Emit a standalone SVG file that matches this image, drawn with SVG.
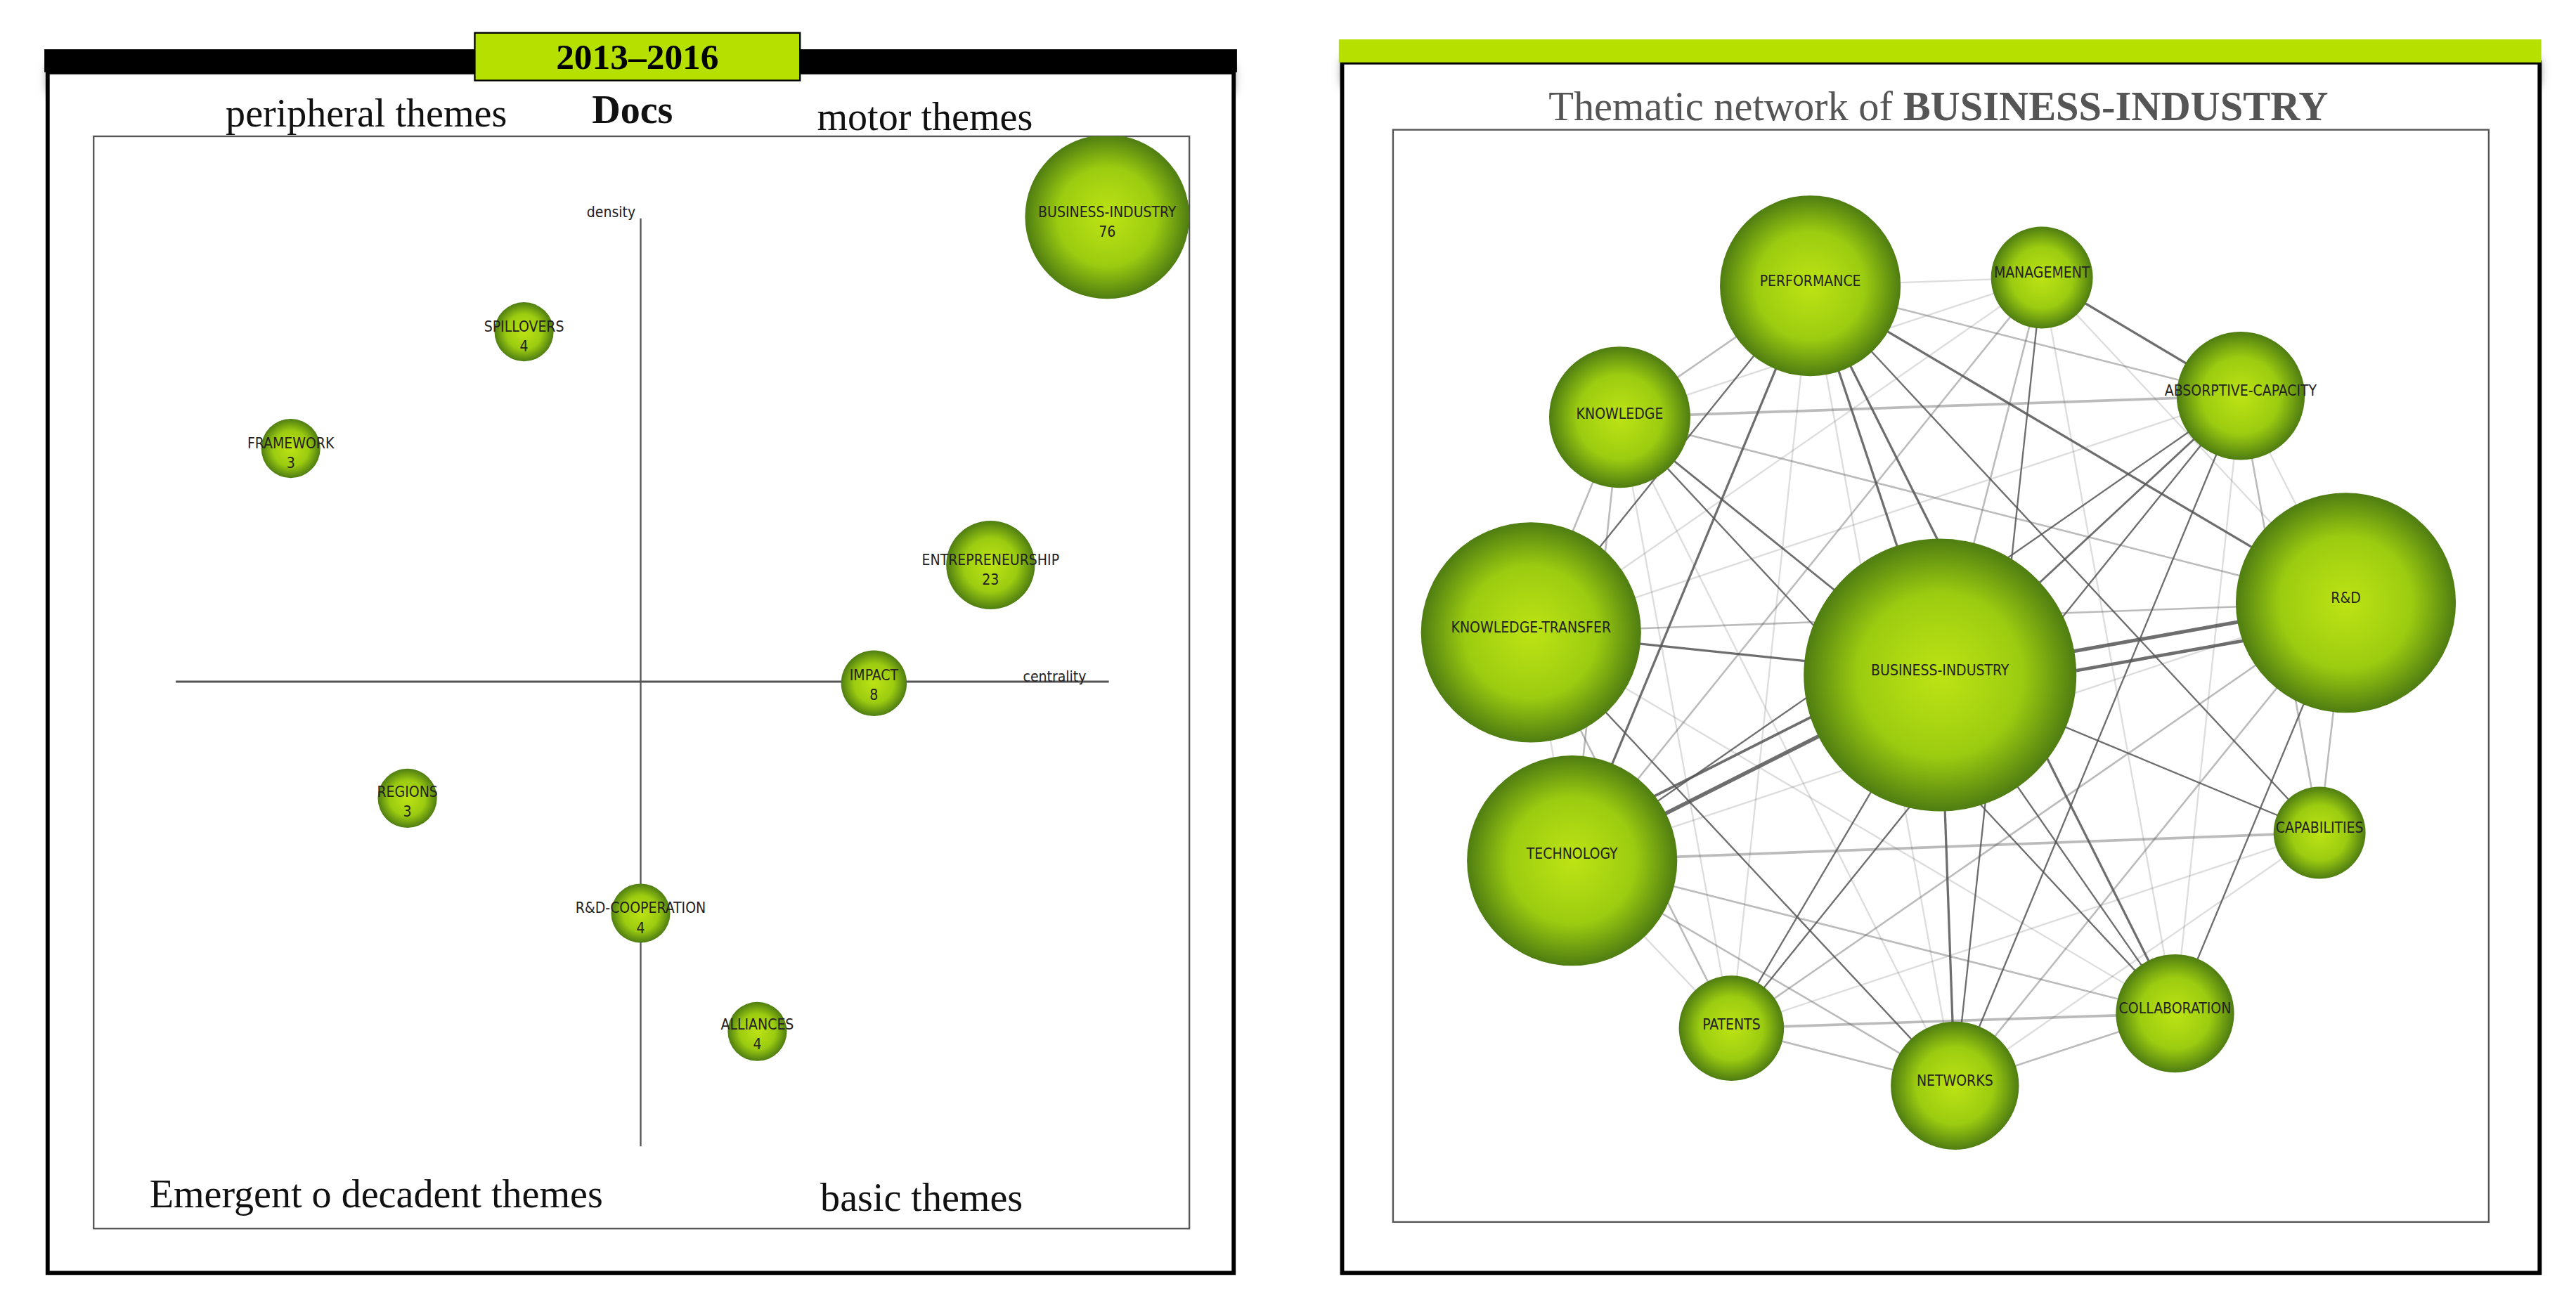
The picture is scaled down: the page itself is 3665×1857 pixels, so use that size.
<svg xmlns="http://www.w3.org/2000/svg" width="3665" height="1857" viewBox="0 0 3665 1857">
<defs>
<radialGradient id="g" cx="0.5" cy="0.5" r="0.5"><stop offset="0" stop-color="#bde314"/><stop offset="0.6" stop-color="#9ccc10"/><stop offset="1" stop-color="#4f7d12"/></radialGradient>
<clipPath id="plot"><rect x="57" y="83" width="667" height="665"/></clipPath>
<filter id="sh" x="-5%" y="-50%" width="110%" height="300%"><feGaussianBlur stdDeviation="3"/></filter>
</defs>
<style>
.b{fill:url(#g)}
.l{font-family:"DejaVu Sans Condensed","DejaVu Sans",sans-serif;font-size:9px;fill:#222;text-anchor:middle}
.q{font-family:"Liberation Serif",serif;font-size:24px;fill:#111;text-anchor:middle}
.e{stroke:#555;fill:none}
</style>
<rect width="3665" height="1857" fill="#fff"/>
<g transform="scale(2.3372)">
<g id="left-panel">
<rect x="29" y="40" width="722" height="16" fill="#888" filter="url(#sh)"/>
<rect x="29" y="44" width="722" height="731" fill="#fff" stroke="#000" stroke-width="2.5"/>
<rect x="27" y="30" width="726" height="14" fill="#000"/>
<rect x="289" y="20" width="198" height="29" fill="#b5e000" stroke="#000" stroke-width="1"/>
<text x="388" y="42" font-family="Liberation Serif,serif" font-size="22" font-weight="bold" text-anchor="middle">2013–2016</text>
<rect x="57" y="83" width="667" height="665" fill="#fff" stroke="#555" stroke-width="1"/>
<text class="q" x="223" y="77">peripheral themes</text>
<text class="q" x="385" y="75" font-weight="bold">Docs</text>
<text class="q" x="563" y="79">motor themes</text>
<text class="q" x="229" y="735">Emergent o decadent themes</text>
<text class="q" x="561" y="737">basic themes</text>
<line x1="390" y1="133" x2="390" y2="698" stroke="#555" stroke-width="1"/>
<line x1="107" y1="415" x2="675" y2="415" stroke="#555" stroke-width="1.3"/>
<text class="l" x="372" y="132">density</text>
<text class="l" x="642" y="415">centrality</text>
<g id="n-bi" clip-path="url(#plot)"><circle class="b" cx="674" cy="132" r="50"/><text class="l" x="674" y="132">BUSINESS-INDUSTRY</text><text class="l" x="674" y="144">76</text></g>
<g id="n-spill"><circle class="b" cx="319" cy="202" r="18"/><text class="l" x="319" y="202">SPILLOVERS</text><text class="l" x="319" y="214">4</text></g>
<g id="n-frame"><circle class="b" cx="177" cy="273" r="18"/><text class="l" x="177" y="273">FRAMEWORK</text><text class="l" x="177" y="285">3</text></g>
<g id="n-entre"><circle class="b" cx="603" cy="344" r="27"/><text class="l" x="603" y="344">ENTREPRENEURSHIP</text><text class="l" x="603" y="356">23</text></g>
<g id="n-impact"><circle class="b" cx="532" cy="416" r="20"/><text class="l" x="532" y="414">IMPACT</text><text class="l" x="532" y="426">8</text></g>
<g id="n-regions"><circle class="b" cx="248" cy="486" r="18"/><text class="l" x="248" y="485">REGIONS</text><text class="l" x="248" y="497">3</text></g>
<g id="n-rdc"><circle class="b" cx="390" cy="556" r="18"/><text class="l" x="390" y="556">R&amp;D-COOPERATION</text><text class="l" x="390" y="568">4</text></g>
<g id="n-all"><circle class="b" cx="461" cy="628" r="18"/><text class="l" x="461" y="627">ALLIANCES</text><text class="l" x="461" y="639">4</text></g>
</g>
<g id="right-panel">
<rect x="817" y="36" width="729" height="16" fill="#888" filter="url(#sh)"/>
<rect x="817" y="38" width="729" height="737" fill="#fff" stroke="#000" stroke-width="2.5"/>
<rect x="815" y="24" width="732" height="14" fill="#b5e000"/>
<text x="1180" y="73" font-family="Liberation Serif,serif" font-size="25" fill="#555" text-anchor="middle">Thematic network of <tspan font-weight="bold">BUSINESS-INDUSTRY</tspan></text>
<rect x="848" y="79" width="667" height="665" fill="#fff" stroke="#555" stroke-width="1"/>
<g id="connectors" class="e">
<g stroke-opacity="0.85" stroke-width="1.4">
<line x1="1102" y1="174" x2="1428" y2="367"/><line x1="1102" y1="174" x2="1181" y2="411"/><line x1="1243" y1="169" x2="1364" y2="241"/><line x1="932" y1="385" x2="1181" y2="411"/><line x1="1181" y1="411" x2="1428" y2="367" stroke-width="2.2"/><line x1="1181" y1="411" x2="1428" y2="367" transform="translate(0,12)" stroke-width="2"/><line x1="957" y1="524" x2="1181" y2="411" stroke-width="2.4"/><line x1="957" y1="524" x2="1181" y2="411" transform="translate(0,-14)" stroke-width="1.6"/>
<line x1="1102" y1="174" x2="1324" y2="617"/><line x1="1102" y1="174" x2="957" y2="524"/><line x1="1364" y1="241" x2="957" y2="524" stroke-width="1"/><line x1="986" y1="254" x2="1324" y2="617" stroke-width="1"/><line x1="1181" y1="411" x2="1190" y2="661"/><line x1="1181" y1="411" x2="1412" y2="507" stroke-width="1"/><line x1="1428" y1="367" x2="1324" y2="617" stroke-width="1"/><line x1="1364" y1="241" x2="1054" y2="626" stroke-width="1"/><line x1="1243" y1="169" x2="1190" y2="661" stroke-width="1"/><line x1="932" y1="385" x2="1190" y2="661" stroke-width="1"/><line x1="1054" y1="626" x2="1181" y2="411" stroke-width="1"/><line x1="1190" y1="661" x2="1364" y2="241" stroke-width="1"/><line x1="1102" y1="174" x2="1412" y2="507" stroke-width="1"/><line x1="932" y1="385" x2="1102" y2="174" stroke-width="1"/><line x1="1324" y1="617" x2="1181" y2="411" stroke-width="1"/><line x1="1364" y1="241" x2="1181" y2="411" stroke-width="1.2"/><line x1="986" y1="254" x2="1181" y2="411" stroke-width="1.2"/>
</g>
<g stroke-opacity="0.4" stroke-width="1.1">
<line x1="1102" y1="174" x2="1364" y2="241"/><line x1="986" y1="254" x2="1364" y2="241" stroke-width="1.6"/><line x1="986" y1="254" x2="1428" y2="367"/><line x1="957" y1="524" x2="1412" y2="507" stroke-width="1.6"/><line x1="957" y1="524" x2="1324" y2="617"/><line x1="1054" y1="626" x2="1324" y2="617" stroke-width="1.6"/><line x1="1054" y1="626" x2="1190" y2="661"/><line x1="1190" y1="661" x2="1324" y2="617"/><line x1="957" y1="524" x2="1190" y2="661"/><line x1="932" y1="385" x2="1428" y2="367"/><line x1="1243" y1="169" x2="1181" y2="411"/><line x1="1243" y1="169" x2="957" y2="524"/><line x1="986" y1="254" x2="1102" y2="174"/><line x1="1428" y1="367" x2="1054" y2="626"/><line x1="1428" y1="367" x2="1190" y2="661"/><line x1="1364" y1="241" x2="1412" y2="507"/><line x1="1428" y1="367" x2="1412" y2="507"/><line x1="932" y1="385" x2="1054" y2="626"/><line x1="986" y1="254" x2="957" y2="524"/><line x1="932" y1="385" x2="986" y2="254"/>
</g>
<g stroke-opacity="0.2" stroke-width="1">
<line x1="1102" y1="174" x2="1243" y2="169"/><line x1="1102" y1="174" x2="1054" y2="626"/><line x1="1102" y1="174" x2="1190" y2="661"/><line x1="986" y1="254" x2="1190" y2="661"/><line x1="986" y1="254" x2="1054" y2="626"/><line x1="986" y1="254" x2="1243" y2="169"/><line x1="1243" y1="169" x2="1428" y2="367"/><line x1="1243" y1="169" x2="1324" y2="617"/><line x1="932" y1="385" x2="1364" y2="241"/><line x1="932" y1="385" x2="1324" y2="617"/><line x1="932" y1="385" x2="957" y2="524"/><line x1="1364" y1="241" x2="1324" y2="617"/><line x1="957" y1="524" x2="1054" y2="626"/><line x1="1054" y1="626" x2="1412" y2="507"/><line x1="1190" y1="661" x2="1412" y2="507"/><line x1="1364" y1="241" x2="1428" y2="367"/><line x1="957" y1="524" x2="1428" y2="367"/><line x1="932" y1="385" x2="1243" y2="169"/>
</g>
</g>
<g id="r-perf"><circle class="b" cx="1102" cy="174" r="55"/><text class="l" x="1102" y="174">PERFORMANCE</text></g>
<g id="r-mgmt"><circle class="b" cx="1243" cy="169" r="31"/><text class="l" x="1243" y="169">MANAGEMENT</text></g>
<g id="r-know"><circle class="b" cx="986" cy="254" r="43"/><text class="l" x="986" y="255">KNOWLEDGE</text></g>
<g id="r-abs"><circle class="b" cx="1364" cy="241" r="39"/><text class="l" x="1364" y="241">ABSORPTIVE-CAPACITY</text></g>
<g id="r-kt"><circle class="b" cx="932" cy="385" r="67"/><text class="l" x="932" y="385">KNOWLEDGE-TRANSFER</text></g>
<g id="r-rd"><circle class="b" cx="1428" cy="367" r="67"/><text class="l" x="1428" y="367">R&amp;D</text></g>
<g id="r-bi"><circle class="b" cx="1181" cy="411" r="83"/><text class="l" x="1181" y="411">BUSINESS-INDUSTRY</text></g>
<g id="r-tech"><circle class="b" cx="957" cy="524" r="64"/><text class="l" x="957" y="523">TECHNOLOGY</text></g>
<g id="r-cap"><circle class="b" cx="1412" cy="507" r="28"/><text class="l" x="1412" y="507">CAPABILITIES</text></g>
<g id="r-pat"><circle class="b" cx="1054" cy="626" r="32"/><text class="l" x="1054" y="627">PATENTS</text></g>
<g id="r-net"><circle class="b" cx="1190" cy="661" r="39"/><text class="l" x="1190" y="661">NETWORKS</text></g>
<g id="r-col"><circle class="b" cx="1324" cy="617" r="36"/><text class="l" x="1324" y="617">COLLABORATION</text></g>
</g>
</g>
</svg>
